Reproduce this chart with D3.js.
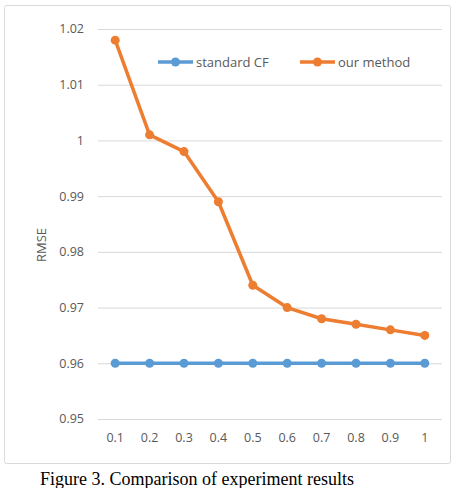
<!DOCTYPE html>
<html lang="en">
<head>
  <meta charset="UTF-8">
  <title>RMSE comparison</title>
  <script src="https://d3js.org/d3.v7.min.js"></script>
  <style>
    body { margin: 0; background: #fff; }
  </style>
</head>
<body>
<div id="chart"></div>
<script>
// data
const xLabels = ["0.1", "0.2", "0.3", "0.4", "0.5", "0.6", "0.7", "0.8", "0.9", "1"];
const standardCF = [0.96, 0.96, 0.96, 0.96, 0.96, 0.96, 0.96, 0.96, 0.96, 0.96];
const ourMethod = [1.018, 1.001, 0.998, 0.989, 0.974, 0.970, 0.968, 0.967, 0.966, 0.965];
const yTicks = [0.95, 0.96, 0.97, 0.98, 0.99, 1, 1.01, 1.02];

const W = 456, H = 488;
const sans = "'Open Sans', 'Liberation Sans', sans-serif";
const svg = d3.select("#chart").append("svg")
  .attr("width", W).attr("height", H)
  .style("font-family", sans);

// chart frame
svg.append("rect")
  .attr("x", 4.5).attr("y", 5.5)
  .attr("width", 446).attr("height", 458)
  .attr("rx", 2)
  .attr("fill", "#fff")
  .attr("stroke", "#d9d9d9");

const x = d3.scaleBand().domain(xLabels).range([98, 442]);
const y = d3.scaleLinear().domain([0.95, 1.02]).range([419, 29]);

// gridlines
svg.append("g").selectAll("line")
  .data(yTicks).enter().append("line")
  .attr("x1", 98).attr("x2", 442)
  .attr("y1", d => y(d) + 0.5).attr("y2", d => y(d) + 0.5)
  .attr("stroke", "#d9d9d9");

// y tick labels
svg.append("g").selectAll("text")
  .data(yTicks).enter().append("text")
  .attr("x", 84).attr("y", d => y(d))
  .attr("dy", "0.35em")
  .attr("text-anchor", "end")
  .attr("font-size", 12.5)
  .attr("fill", "#595959")
  .text(d => d3.format(".2~f")(d));

// x tick labels
svg.append("g").selectAll("text")
  .data(xLabels).enter().append("text")
  .attr("x", d => x(d) + x.bandwidth() / 2)
  .attr("y", 438).attr("dy", "0.35em")
  .attr("text-anchor", "middle")
  .attr("font-size", 12.5)
  .attr("fill", "#595959")
  .text(d => d);

// axis title
svg.append("text")
  .attr("transform", "translate(46,245) rotate(-90)")
  .attr("text-anchor", "middle")
  .attr("font-size", 13)
  .attr("fill", "#595959")
  .text("RMSE");

const series = [
  { name: "standard CF", values: standardCF, color: "#5b9bd5" },
  { name: "our method", values: ourMethod, color: "#ed7d31" }
];

const line = d3.line()
  .x((d, i) => x(xLabels[i]) + x.bandwidth() / 2)
  .y(d => y(d));

series.forEach(s => {
  svg.append("path")
    .datum(s.values)
    .attr("d", line)
    .attr("fill", "none")
    .attr("stroke", s.color)
    .attr("stroke-width", 3.5)
    .attr("stroke-linejoin", "round");
  svg.append("g").selectAll("circle")
    .data(s.values).enter().append("circle")
    .attr("cx", (d, i) => x(xLabels[i]) + x.bandwidth() / 2)
    .attr("cy", d => y(d))
    .attr("r", 4.5)
    .attr("fill", s.color);
});

// legend
const legendX = [158, 300];
series.forEach((s, i) => {
  const g = svg.append("g").attr("transform", `translate(${legendX[i]},62)`);
  g.append("line").attr("x1", 0).attr("x2", 35)
    .attr("stroke", s.color).attr("stroke-width", 3.5);
  g.append("circle").attr("cx", 17.5).attr("r", 4.5).attr("fill", s.color);
  g.append("text").attr("x", 38).attr("dy", "0.35em")
    .attr("font-size", 13).attr("fill", "#595959")
    .text(s.name);
});

// caption
svg.append("text")
  .attr("x", 40).attr("y", 485)
  .style("font-family", "'Liberation Serif', 'DejaVu Serif', serif")
  .attr("font-size", 18)
  .attr("fill", "#000")
  .text("Figure 3. Comparison of experiment results");
</script>
</body>
</html>
